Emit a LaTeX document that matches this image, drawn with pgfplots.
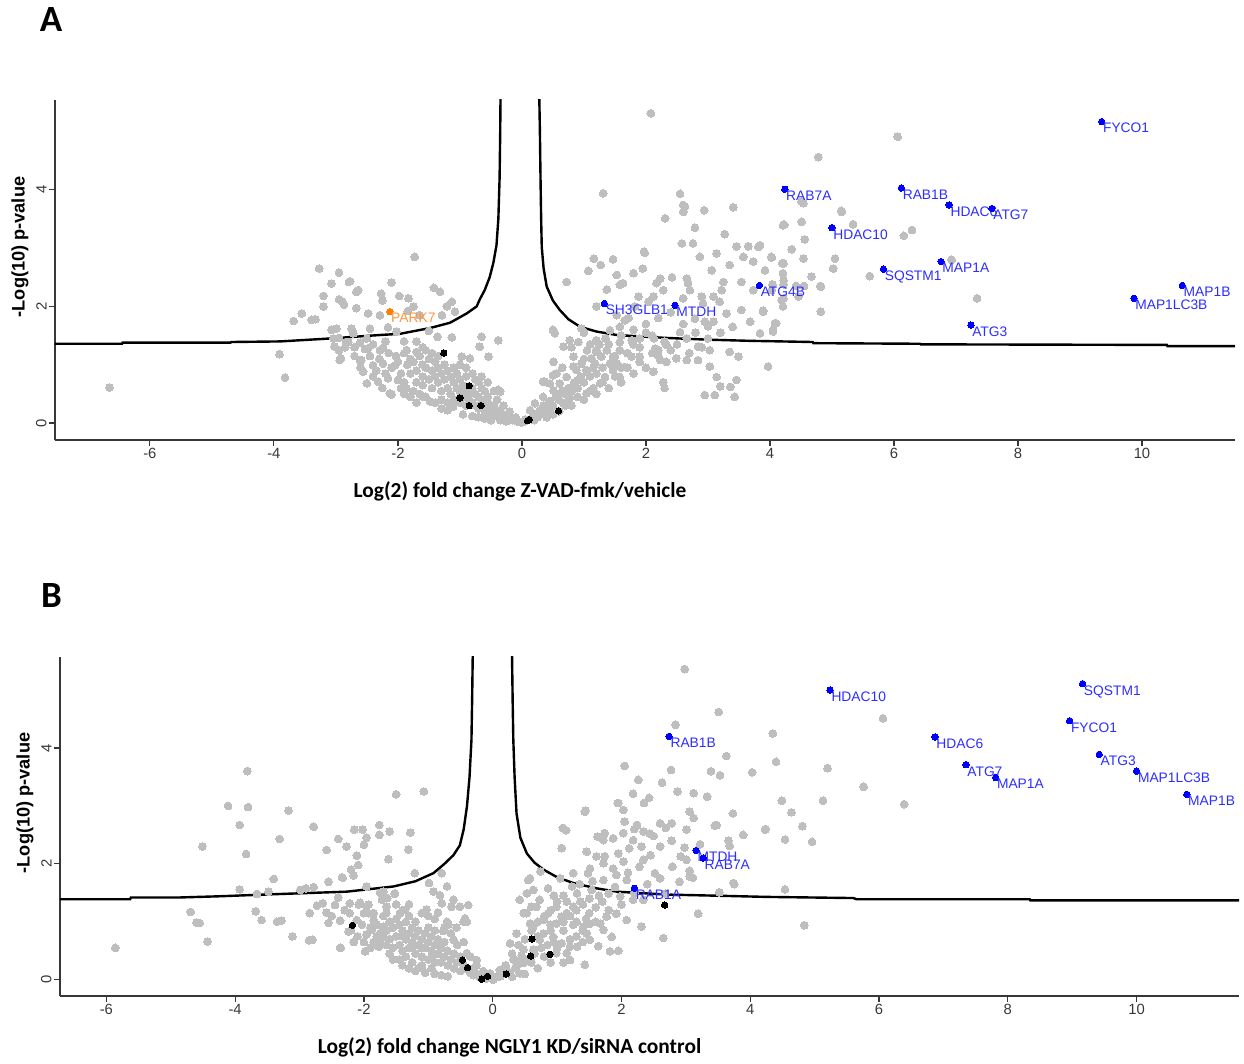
\documentclass[border=0pt]{standalone}
\usepackage{fontspec}
\setmainfont{Liberation Sans}
\newfontfamily\calibri{Carlito}
\usepackage{pgfplots}
\pgfplotsset{compat=1.18}
\definecolor{ptgrey}{RGB}{190,190,190}
\definecolor{axgrey}{RGB}{55,55,55}
\definecolor{lblue}{RGB}{0,0,255}
\definecolor{tblue}{RGB}{45,45,255}
\definecolor{porange}{RGB}{255,127,0}
\definecolor{torange}{RGB}{255,150,60}
\pgfplotsset{volc/.style={
  scale only axis, anchor=south west,
  axis x line*=bottom, axis y line*=left,
  axis line style={axgrey, line width=0.8pt, -},
  tick style={axgrey, line width=0.6pt}, tick align=outside, major tick length=3pt,
  xtick={-6,-4,-2,0,2,4,6,8,10}, ytick={0,2,4},
  xticklabels={-6,-4,-2,0,2,4,6,8,10}, yticklabels={0,2,4},
  tick label style={font=\fontsize{7.4}{8}\selectfont, text=axgrey},
  yticklabel style={rotate=90, anchor=south, inner sep=1pt},
  xticklabel style={anchor=north, inner sep=1pt},
  grey/.style={only marks, mark=*, mark size=1.95pt, mark options={draw=ptgrey, fill=ptgrey, line width=0pt}},
  blk/.style={only marks, mark=*, mark size=1.6pt, mark options={draw=black, fill=black, line width=0pt}},
  thr/.style={black, line width=1.2pt, no marks},
  lab/.style={only marks, mark=*, mark size=1.6pt, mark options={draw=lblue, fill=lblue, line width=0pt},
    nodes near coords, point meta=explicit symbolic,
    every node near coord/.append style={anchor=north west, inner sep=0pt, xshift=0.7pt, yshift=-0.9pt, font=\fontsize{6.9}{7}\selectfont, text=tblue}},
}}
\begin{document}
\begin{tikzpicture}
\path (0pt,0pt) rectangle (622pt,532pt);
% ---------------- Panel A ----------------
\node[font=\calibri\bfseries\fontsize{18.5}{20}\selectfont] at (25.5pt,522pt) {A};
\node[font=\bfseries\fontsize{9.1}{10}\selectfont, rotate=90] at (10pt,408.5pt) {-Log(10) p-value};
\node[font=\calibri\bfseries\fontsize{10.7}{12}\selectfont] at (260pt,286.5pt) {Log(2) fold change Z-VAD-fmk/vehicle};
\begin{axis}[volc, at={(27.5pt,312pt)}, width=590pt, height=170pt,
  xmin=-7.53, xmax=11.5, ymin=-0.29, ymax=5.54]
\addplot[grey] coordinates {
(-6.65,0.61)(-3.91,1.18)(-3.82,0.78)(-3.27,2.65)(-2.95,2.58)(-3.07,2.39)(-2.79,2.42)(-3.2,2.18)(-2.95,2.12)(-2.67,2.25)(-2.64,2.28)(-3.55,1.88)(-3.68,1.75)(-3.39,1.77)(-3.33,1.78)(-3.2,2.0)(-2.87,2.03)(-2.27,2.22)(-2.1,2.41)(-1.98,2.18)(-1.73,2.85)(-2.25,2.10)
(-2.77,2.43)(-2.9,2.09)(-1.83,2.14)(-1.42,2.32)(-1.32,2.25)(-1.13,2.08)(-1.21,2.0)(-1.08,1.91)(-1.29,1.85)(-1.75,2.0)(-1.84,1.92)(-1.65,1.85)(-2.67,1.97)(-2.48,1.88)(-2.29,1.85)(-2.45,1.62)(-2.99,1.62)(-2.75,1.62)(-2.16,1.64)(-2.02,1.57)(-1.5,1.58)(-1.36,1.48)(-1.13,1.47)(-0.65,1.48)(-0.38,1.42)(-2.95,1.46)(-2.8,1.39)(-2.61,1.38)(-3.02,1.31)(-2.53,1.27)(-2.24,1.29)(-2.03,1.15)(-1.86,1.25)(-1.7,1.22)(-2.92,1.11)(-2.61,1.08)(-2.4,0.99)(-2.24,1.02)(-2.05,0.99)(-2.56,0.88)(-2.5,0.68)(-2.32,0.71)(-2.16,0.77)(-2.0,0.74)(-1.86,0.59)(-2.13,0.51)(-1.59,0.45)(-1.48,0.37)(-1.11,0.28)(-0.68,1.31)(-0.54,1.14)(-0.84,1.11)(-0.97,1.14)(-0.38,0.57)
(-2.48,1.28)(-2.1,0.49)(-2.94,1.08)(-2.95,1.25)(-3.07,1.6)(-3.04,1.45)(-2.83,1.39)(-2.72,1.54)(-2.5,1.45)(-2.29,1.25)(-2.59,1.08)
(-1.75,1.05)(-1.7,0.9)(-1.65,1.15)(-1.6,0.8)(-1.6,1.0)(-1.55,0.95)(-1.5,1.1)(-1.5,0.75)(-1.45,0.9)(-1.45,0.6)(-1.4,1.05)(-1.4,0.8)(-1.35,0.95)(-1.35,0.7)(-1.3,0.85)(-1.3,0.55)(-1.25,1.0)(-1.25,0.75)(-1.2,0.9)(-1.2,0.6)(-1.15,0.8)(-1.15,0.5)(-1.1,0.95)(-1.1,0.7)(-1.05,0.6)(-1.05,0.85)(-1.0,0.75)(-1.0,0.55)(-0.95,0.65)(-0.95,0.45)(-0.9,0.8)(-0.9,0.55)(-0.85,0.5)(-0.85,0.4)(-0.8,0.6)(-0.8,0.35)(-0.75,0.5)(-0.75,0.3)(-0.7,0.45)(-0.7,0.25)(-0.65,0.4)(-0.6,0.3)(-0.6,0.2)(-0.55,0.35)(-0.5,0.25)(-0.5,0.15)(-0.45,0.2)(-0.4,0.12)(-0.35,0.18)(-0.3,0.1)(-0.25,0.08)(-0.2,0.12)(-0.15,0.05)(-0.1,0.04)(-0.05,0.02)(0.0,0.01)(0.05,0.03)(-0.6,0.55)(-0.55,0.45)(-0.65,0.6)(-0.7,0.7)(-0.75,0.75)(-1.2,0.35)(-1.3,0.4)(-1.0,0.35)(-1.1,0.4)(-0.9,0.3)(-1.6,0.65)(-1.7,0.7)(-1.8,0.85)(-1.85,1.0)(-1.9,0.7)(-0.45,0.3)(-0.4,0.22)(-0.3,0.15)(-0.2,0.06)(-0.35,0.05)(-0.25,0.03)
(-2.7,1.15)(-2.6,0.95)(-2.45,1.15)(-2.35,0.9)(-2.3,1.1)(-2.2,0.85)(-2.15,1.2)(-2.1,0.95)(-2.0,1.05)(-1.95,0.85)(-1.9,1.2)(-1.8,1.1)(-1.75,0.55)(-1.65,0.5)(-1.55,0.45)(-1.4,0.35)(-1.3,0.25)(-1.2,0.22)(-0.95,0.15)(-0.8,0.12)(-0.7,0.1)(-0.6,0.08)(-0.5,0.05)(-1.55,1.25)(-1.45,1.2)(-1.35,1.15)(-1.0,1.0)(-0.9,0.95)(-0.8,0.85)(-0.65,0.8)(-0.55,0.7)(-0.45,0.55)(-0.4,0.4)(-0.3,0.3)(-0.2,0.2)(-0.1,0.1)(-2.4,1.35)(-2.2,1.4)(-1.9,1.4)(-1.7,1.4)(-1.6,1.3)(-2.85,1.3)(-2.7,1.3)(-1.95,0.6)(-2.25,0.6)(-2.4,0.8)(-1.8,0.45)(-1.7,0.35)(-1.9,0.5)
(1.31,3.94)(2.55,3.93)(2.6,3.74)(2.6,3.62)(2.94,3.65)(3.41,3.7)(2.31,3.51)(2.79,3.35)(3.27,3.24)(2.58,3.08)(2.76,3.08)(3.14,2.91)(3.46,3.03)(3.65,3.03)(3.81,3.02)(3.57,2.85)(3.73,2.77)(4.03,2.84)(4.22,2.74)(4.22,3.40)(1.97,2.94)(1.47,2.81)(1.16,2.82)(1.27,2.71)(1.07,2.61)(1.95,2.65)(1.8,2.57)(1.53,2.54)(1.63,2.4)(1.58,2.37)(1.37,2.29)(0.72,2.42)(1.2,2.0)(0.96,1.62)(2.42,2.5)(2.23,2.48)(2.66,2.48)(2.68,2.40)(2.87,2.85)(3.06,2.62)(3.25,2.42)(3.22,2.28)(3.35,2.71)(3.54,2.42)(3.73,2.28)(4.03,2.28)(4.22,2.45)(4.22,2.14)(4.08,1.71)(3.89,1.91)(3.84,1.54)(4.05,1.57)(3.97,0.97)(3.49,1.14)(3.35,1.22)(3.46,0.74)(3.43,0.45)(3.14,0.79)(3.2,0.63)(3.36,0.62)(3.11,0.48)(2.95,0.48)(2.28,0.7)(2.3,0.6)(2.12,0.88)(2.33,1.05)(2.49,1.11)(2.66,1.08)(2.84,1.08)(3.03,0.97)(3.03,1.25)(2.84,1.31)(2.66,1.45)(2.55,1.56)(2.79,1.79)(2.95,1.74)(3.0,1.66)(3.09,1.74)(3.30,1.88)(3.54,1.94)(3.68,1.74)(3.19,2.08)(3.09,2.17)(2.9,2.17)(2.92,2.05)(2.71,2.28)(2.6,2.14)(2.28,2.28)(2.17,2.4)(2.12,2.17)(2.04,2.08)(1.88,2.17)(1.82,2.0)(1.72,1.8)(1.66,1.76)(1.53,1.85)(1.58,1.65)(1.42,1.59)(1.35,1.45)(1.25,1.35)(1.2,1.42)(1.1,1.35)(1.05,1.25)(0.91,1.39)(0.77,1.42)(0.67,1.31)(0.53,1.54)(0.51,1.05)(2.1,1.5)(2.13,1.45)(2.15,1.28)(2.2,1.25)(2.23,1.08)(2.33,1.34)(1.9,1.45)(1.77,1.42)(1.58,1.39)(1.58,1.25)(1.77,1.14)(1.9,1.14)(1.66,0.96)(1.58,0.79)(1.42,1.02)(1.28,1.14)(1.18,1.02)(1.04,0.91)(0.88,0.91)(0.9,0.74)(0.83,0.66)(0.72,0.79)(0.61,0.68)(0.51,0.56)(0.37,0.71)(0.34,0.45)(0.21,0.34)(0.13,0.22)(0.29,0.22)(0.45,0.28)(0.67,0.34)(0.77,0.42)(1.04,0.51)(1.15,0.6)(1.26,0.68)(1.34,0.79)(1.47,0.91)(1.53,1.02)(0.96,1.02)(1.12,1.11)(1.2,1.22)(1.37,1.25)(1.47,1.14)(0.83,1.14)(0.56,0.85)(0.45,0.68)(0.18,0.17)(0.05,0.06)
(0.3,0.15)(0.4,0.2)(0.5,0.3)(0.6,0.4)(0.7,0.5)(0.8,0.55)(0.9,0.6)(1.0,0.7)(1.1,0.8)(1.2,0.85)(0.35,0.3)(0.55,0.45)(0.75,0.6)(0.95,0.8)(1.15,0.95)(0.25,0.1)(0.45,0.38)(0.65,0.55)(0.85,0.7)(1.05,0.88)
(-0.35,0.54)(0.34,0.71)(0.5,0.82)(0.83,0.97)(0.56,0.48)(0.5,1.6)
(0.6,0.2)(0.8,0.3)(1.0,0.4)(1.2,0.5)(1.4,0.6)(1.6,0.7)(1.8,0.85)(2.0,0.95)(2.2,1.15)(2.4,1.25)(0.7,0.3)(0.9,0.45)(1.1,0.55)(1.3,0.7)(1.5,0.8)(1.7,0.95)(1.9,1.05)(2.1,1.2)(2.3,1.4)(2.5,1.35)(1.0,1.1)(1.2,1.25)(1.4,1.35)(1.6,1.5)(1.8,1.6)(2.0,1.7)(2.2,1.8)(2.4,1.9)(2.6,1.7)(2.8,1.55)(3.0,1.45)(3.2,1.55)(3.4,1.65)(2.7,1.2)(2.9,1.3)(1.9,1.3)(1.7,1.2)(0.4,0.1)(0.5,0.15)(0.2,0.05)(1.3,0.95)(1.5,1.15)(1.6,0.95)(1.8,1.35)(2.0,1.55)(0.65,0.95)(0.8,1.3)(1.0,1.55)
(6.06,4.91)(4.78,4.56)(4.54,3.77)(5.15,3.64)(4.23,3.4)(4.51,3.45)(5.34,3.41)(4.56,3.15)(4.35,2.98)(4.02,2.85)(4.2,2.74)(4.54,2.82)(5.05,2.82)(5.02,2.65)(4.67,2.51)(4.81,2.35)(4.21,2.57)(3.92,2.62)(3.84,3.05)(4.04,2.38)(4.22,2.38)(4.42,2.35)(4.55,2.35)(4.19,2.11)(4.46,2.17)(4.21,2.0)(4.82,1.91)(3.89,1.93)(4.1,1.71)(4.05,1.6)(5.61,2.52)(6.16,3.21)(6.29,3.31)(6.93,2.8)(7.34,2.14)(2.08,5.31)(2.63,3.71)(4.51,3.8)(5.16,3.62)(4.21,3.39)(4.82,2.34)(1.98,2.92)
};
\addplot[thr] coordinates {(-7.53,1.36)(-6.45,1.36)(-6.44,1.38)(-4.7,1.38)(-4.69,1.39)(-3.9,1.40)(-3.1,1.45)(-2.29,1.51)(-1.97,1.53)(-1.48,1.63)(-1.16,1.72)(-0.89,1.88)(-0.73,2.0)(-0.68,2.12)(-0.6,2.28)(-0.52,2.5)(-0.46,2.75)(-0.41,3.05)(-0.38,3.5)(-0.36,4.2)(-0.35,5.0)(-0.345,5.6)};
\addplot[thr] coordinates {(0.28,5.6)(0.29,5.0)(0.30,4.2)(0.31,3.5)(0.32,3.02)(0.35,2.65)(0.40,2.34)(0.5,2.1)(0.61,1.94)(0.75,1.78)(0.94,1.65)(1.2,1.57)(1.53,1.51)(2.0,1.48)(2.33,1.46)(3.0,1.43)(3.68,1.41)(4.69,1.39)(4.7,1.37)(6.42,1.36)(6.43,1.35)(10.4,1.34)(10.41,1.32)(11.5,1.32)};
\addplot[blk] coordinates {(-1.26,1.20)(-0.85,0.64)(-1.0,0.43)(-0.85,0.30)(-0.66,0.30)(0.09,0.04)(0.12,0.06)(0.59,0.21)};
\addplot[only marks, mark=*, mark size=1.6pt, mark options={draw=porange, fill=porange, line width=0pt},
  nodes near coords, point meta=explicit symbolic,
  every node near coord/.append style={anchor=north west, inner sep=0pt, xshift=0.7pt, yshift=-0.9pt, font=\fontsize{6.9}{7}\selectfont, text=torange}]
  coordinates {(-2.13,1.91) [PARK7]};
\addplot[lab] coordinates {
(9.35,5.17) [FYCO1] (6.12,4.03) [RAB1B] (6.89,3.74) [HDAC6] (7.58,3.68) [ATG7] (6.76,2.77) [MAP1A] (5.83,2.64) [SQSTM1] (10.65,2.36) [MAP1B] (9.87,2.14) [MAP1LC3B] (7.24,1.68) [ATG3] (4.24,4.01) [RAB7A] (5.0,3.35) [HDAC10] (3.83,2.36) [ATG4B] (1.33,2.05) [SH3GLB1] (2.47,2.02) [MTDH]};
\end{axis}
% ---------------- Panel B ----------------
\node[font=\calibri\bfseries\fontsize{18.5}{20}\selectfont] at (25.75pt,234pt) {B};
\node[font=\bfseries\fontsize{9.1}{10}\selectfont, rotate=90] at (12.5pt,130.5pt) {-Log(10) p-value};
\node[font=\calibri\bfseries\fontsize{10.7}{12}\selectfont] at (254.75pt,8.5pt) {Log(2) fold change NGLY1 KD/siRNA control};
\begin{axis}[volc, at={(30pt,34pt)}, width=589.5pt, height=169.5pt,
  xmin=-6.72, xmax=11.59, ymin=-0.28, ymax=5.57]
\addplot[grey] coordinates {
(-5.86,0.55)(-3.81,3.60)(-4.11,3.0)(-3.8,2.98)(-3.93,2.67)(-4.51,2.3)(-3.83,2.17)(-3.17,2.92)(-3.31,2.43)(-2.78,2.64)(-1.5,3.2)(-1.07,3.25)(-3.4,1.74)(-3.93,1.56)(-4.69,1.17)(-4.6,0.99)(-4.55,0.98)(-4.43,0.66)(-3.68,1.18)(-3.59,1.03)(-3.35,1.0)(-3.28,1.02)(-3.11,0.75)(-2.85,0.68)(-2.8,0.69)(-2.84,1.15)(-2.9,1.58)(-2.78,1.6)(-2.64,1.32)(-2.58,2.24)(-2.4,2.43)(-2.15,2.59)(-2.02,2.59)(-2.27,2.3)(-2.11,2.14)(-1.96,2.45)(-2.0,2.33)(-2.09,1.98)(-1.76,2.67)(-1.76,2.5)(-1.6,2.56)(-1.28,2.54)(-1.31,2.25)(-1.62,2.08)(-1.21,1.84)(-2.2,1.9)(-2.33,1.76)(-2.55,1.69)(-1.96,1.61)(-1.7,1.52)(-1.52,1.49)(-1.72,1.38)(-1.65,1.26)(-2.4,1.42)(-2.22,1.32)(-2.08,1.3)(-1.96,1.26)(-2.22,1.15)(-2.37,1.02)(-2.2,0.86)(-2.55,0.98)(-2.37,0.55)(-1.98,0.49)(-1.77,0.57)(-1.96,0.78)(-1.7,0.92)(-1.85,1.03)(-1.44,1.15)(-1.36,1.21)
(-2.16,1.8)(-2.34,1.77)(-0.79,1.84)(-0.71,1.61)(-0.99,1.67)(-0.92,1.52)(-0.82,1.46)(-0.79,1.32)(-0.61,1.38)(-0.51,1.26)(-0.38,1.29)(-1.03,1.21)(-0.85,1.16)(-0.71,1.0)(-0.45,1.0)(-0.4,1.0)(-1.75,1.5)(-1.64,1.41)(-1.52,1.48)(-1.93,1.3)(-2.06,1.33)(-2.45,1.29)(-2.73,1.28)(-2.58,1.16)(-2.99,1.55)(-3.66,1.48)(-3.48,1.52)(-2.36,0.55)(-1.77,0.62)(-2.16,0.65)(-1.85,0.65)(-1.7,0.74)(-1.88,0.86)(-2.03,0.95)(-2.11,1.03)(-2.24,0.83)(-1.93,1.15)
(-0.64,1.26)(-0.43,1.06)(-0.56,0.9)(-0.69,0.95)(-0.77,0.84)(-0.82,0.63)(-0.61,0.69)(-0.4,0.46)(-0.25,0.34)(-0.04,0.11)(0.12,0.06)(0.22,0.17)(0.37,0.23)(0.42,0.34)(0.53,1.15)(0.6,1.26)(0.55,1.72)
(-1.7,1.1)(-1.65,0.85)(-1.6,1.0)(-1.6,0.7)(-1.55,0.9)(-1.5,1.05)(-1.5,0.75)(-1.45,0.6)(-1.45,0.95)(-1.4,0.85)(-1.4,0.5)(-1.35,0.7)(-1.35,1.0)(-1.3,0.8)(-1.3,0.55)(-1.25,0.65)(-1.25,0.9)(-1.2,0.75)(-1.2,0.45)(-1.15,0.6)(-1.15,0.85)(-1.1,0.7)(-1.1,0.4)(-1.05,0.55)(-1.05,0.8)(-1.0,0.65)(-1.0,0.35)(-0.95,0.5)(-0.95,0.75)(-0.9,0.6)(-0.9,0.3)(-0.85,0.45)(-0.8,0.55)(-0.8,0.3)(-0.75,0.4)(-0.7,0.5)(-0.7,0.25)(-0.65,0.35)(-0.6,0.45)(-0.6,0.2)(-0.55,0.3)(-0.5,0.4)(-0.5,0.15)(-0.45,0.25)(-0.4,0.18)(-0.35,0.12)(-0.3,0.2)(-0.3,0.08)(-0.25,0.1)(-0.2,0.05)(-0.15,0.03)(-0.1,0.02)(-0.05,0.05)(0.0,0.02)(0.05,0.04)(-1.8,0.95)(-1.85,1.15)(-1.75,0.8)(-1.3,1.1)(-1.2,1.0)(-1.0,0.9)(-0.9,0.85)(-0.85,0.7)(-0.75,0.65)(-1.55,0.55)(-1.35,0.4)(-1.25,0.3)(-1.1,0.25)(-0.95,0.2)(-1.45,0.35)(-1.6,0.45)(-1.15,0.2)
(-2.0,1.15)(-1.9,0.9)(-1.8,0.75)(-1.75,0.65)(-1.65,0.6)(-1.55,0.35)(-1.4,0.25)(-1.3,0.2)(-1.2,0.15)(-1.05,0.12)(-0.9,0.1)(-0.8,0.08)(-0.7,0.06)(-1.5,1.3)(-1.4,1.2)(-1.3,1.3)(-1.1,1.15)(-1.0,1.1)(-0.9,1.05)(-0.75,0.9)(-0.65,0.8)(-0.55,0.6)(-0.45,0.65)(-0.35,0.4)(-0.25,0.25)(-0.15,0.15)(-2.1,0.75)(-2.0,0.65)(-1.9,0.55)(-1.65,1.15)(-2.3,1.2)(-2.5,1.1)(-1.4,0.75)(-1.25,0.55)(-1.1,0.55)(-0.95,0.4)
(2.98,5.36)(3.51,4.62)(2.84,4.4)(3.63,3.86)(2.05,3.69)(2.77,3.62)(3.39,3.6)(3.53,3.53)(4.03,3.58)(2.26,3.45)(2.63,3.4)(2.18,3.21)(2.43,3.14)(2.35,3.05)(2.87,3.25)(3.12,3.22)(3.33,3.16)(1.94,3.05)(1.44,2.92)(2.03,2.93)(2.05,2.73)(2.24,2.67)(2.6,2.7)(2.78,2.7)(3.06,2.9)(3.12,2.79)(3.73,2.87)(3.48,2.67)(3.01,2.59)(2.69,2.62)(2.44,2.52)(2.5,2.48)(2.34,2.56)(2.18,2.41)(2.03,2.53)(1.87,2.44)(1.74,2.53)(1.63,2.47)(1.14,2.58)(1.09,2.62)(1.07,2.27)(1.46,2.21)(1.61,2.13)(1.74,2.13)(1.95,2.18)(2.12,2.27)(2.31,2.3)(2.78,2.4)(2.92,2.13)(3.01,2.07)(3.66,2.4)(3.68,2.31)(3.89,2.5)(4.23,2.59)(2.79,1.95)(2.52,1.84)(2.34,2.07)(2.28,1.95)(2.03,2.04)(1.87,1.92)(1.72,2.01)(1.51,1.92)(1.48,1.84)(1.25,1.84)(1.05,1.75)(0.74,1.87)(0.58,1.75)(0.63,1.55)(0.86,1.58)(1.23,1.61)(1.31,1.49)(1.54,1.55)(1.72,1.72)(1.92,1.81)(2.08,1.72)(1.8,1.49)(1.98,1.44)(2.18,1.38)(2.34,1.38)(2.68,1.49)(2.9,1.69)(3.06,1.78)(3.11,1.76)(3.52,1.51)(3.74,1.67)(3.19,1.14)(2.65,0.72)(2.31,0.92)(2.08,1.03)(1.92,1.14)(1.77,1.09)(1.67,0.97)(1.51,0.97)(1.41,0.92)(1.72,0.86)(1.85,0.74)(1.43,0.26)(1.95,0.5)(1.82,0.49)(1.64,0.58)(1.46,0.8)(1.51,0.69)(1.31,0.57)(1.2,0.34)(0.99,0.97)(1.07,1.09)(1.25,1.26)(1.36,1.35)(1.15,1.15)(0.99,1.26)(0.86,1.15)(0.79,1.03)(0.68,1.26)(0.73,1.38)(0.48,1.15)(0.58,0.97)(0.42,1.38)(0.53,1.49)(0.79,0.8)(0.94,0.74)(1.07,0.63)(1.2,0.57)(0.99,0.46)(1.15,0.46)(0.37,0.8)(0.27,0.63)(0.48,0.52)(0.63,0.52)(0.32,0.35)(0.48,0.29)(0.11,0.17)(0.27,0.11)(0.42,0.11)(0.01,0.0)(0.63,0.92)(0.73,0.69)
(1.43,2.9)(1.72,2.41)(1.95,3.05)(3.75,1.65)(3.06,1.88)(2.98,2.28)(3.22,2.34)(3.45,2.66)
(0.2,0.25)(0.3,0.45)(0.4,0.6)(0.5,0.7)(0.6,0.85)(0.7,1.0)(0.8,1.1)(0.9,1.2)(1.0,1.35)(1.1,1.45)(0.55,0.35)(0.65,0.45)(0.75,0.55)(0.85,0.6)(0.95,0.65)(0.35,0.2)(0.45,0.42)(0.9,0.95)(1.1,1.0)(1.2,1.1)(1.3,1.2)(1.4,1.3)(1.5,1.4)(1.6,1.25)(1.3,0.75)(1.4,0.65)
(0.3,0.05)(0.5,0.1)(0.7,0.2)(0.9,0.3)(1.1,0.3)(0.6,0.3)(0.8,0.4)(1.0,0.55)(1.2,0.7)(1.4,0.85)(1.6,1.0)(1.8,1.2)(2.0,1.3)(2.2,1.5)(2.4,1.65)(2.6,1.75)(1.3,1.0)(1.5,1.15)(1.7,1.35)(1.9,1.6)(2.1,1.85)(0.7,0.75)(0.9,0.85)(1.1,0.85)(1.25,0.95)(1.45,1.05)(1.65,1.45)(1.55,1.7)(1.35,1.65)(1.15,1.35)(0.95,1.45)(2.45,2.15)(2.6,2.3)(2.2,2.6)
(6.06,4.51)(4.35,4.25)(4.4,3.76)(5.2,3.65)(5.76,3.33)(6.39,3.03)(4.49,3.09)(5.13,3.09)(4.64,2.89)(4.81,2.65)(4.24,2.6)(4.54,2.42)(4.96,2.38)(4.54,1.56)(4.84,0.94)
};
\addplot[thr] coordinates {(-6.72,1.39)(-5.63,1.39)(-5.62,1.42)(-4.86,1.42)(-4.26,1.44)(-3.3,1.48)(-2.27,1.52)(-1.54,1.61)(-1.2,1.7)(-0.92,1.84)(-0.75,2.0)(-0.61,2.15)(-0.51,2.32)(-0.45,2.6)(-0.40,2.99)(-0.36,3.5)(-0.33,4.14)(-0.32,4.8)(-0.31,5.6)};
\addplot[thr] coordinates {(0.30,5.6)(0.31,4.8)(0.32,4.14)(0.34,3.5)(0.37,2.87)(0.43,2.45)(0.53,2.18)(0.65,2.02)(0.79,1.90)(1.0,1.77)(1.25,1.67)(1.6,1.58)(1.93,1.52)(2.70,1.47)(3.5,1.45)(4.25,1.43)(5.6,1.41)(5.65,1.39)(8.34,1.39)(8.35,1.37)(11.59,1.37)};
\addplot[blk] coordinates {(2.67,1.29)(0.61,0.70)(0.59,0.41)(0.89,0.44)(0.21,0.10)(-0.47,0.34)(-0.39,0.21)(-0.17,0.01)(-0.08,0.06)(-2.18,0.94)};
\addplot[lab] coordinates {
(9.16,5.11) [SQSTM1] (8.96,4.47) [FYCO1] (6.87,4.19) [HDAC6] (9.42,3.89) [ATG3] (7.35,3.71) [ATG7] (7.81,3.49) [MAP1A] (10.0,3.60) [MAP1LC3B] (10.78,3.20) [MAP1B] (5.24,5.0) [HDAC10] (2.74,4.20) [RAB1B] (3.16,2.23) [MTDH] (3.27,2.10) [RAB7A] (2.20,1.58) [RAB1A]};
\end{axis}
\end{tikzpicture}
\end{document}
